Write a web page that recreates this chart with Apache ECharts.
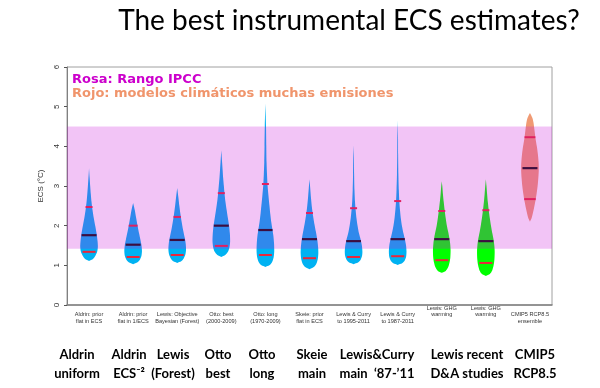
<!DOCTYPE html>
<html><head><meta charset="utf-8">
<script src="https://cdn.jsdelivr.net/npm/echarts@6/dist/echarts.min.js"></script>
<style>html,body{margin:0;padding:0;background:#fff}#c{width:600px;height:388px}</style>
</head><body><div id="c"></div>
<script>
// ---- data ----
const categories = ['Aldrin: prior\nflat in ECS','Aldrin: prior\nflat in 1/ECS','Lewis: Objective\nBayesian (Forest)','Otto: best\n(2000-2009)','Otto: long\n(1970-2009)','Skeie: prior\nflat in ECS','Lewis & Curry\nto 1995-2011','Lewis & Curry\nto 1987-2011','Lewis: GHG\nwarming\n\u00a0\n\u00a0','Lewis: GHG\nwarming\n\u00a0\n\u00a0','CMIP5 RCP8.5\nensemble'];
const groups = ['obs','obs','obs','obs','obs','obs','obs','obs','ghg','ghg','cmip'];
const medians = [1.76,1.52,1.64,2.00,1.89,1.66,1.61,1.66,1.66,1.61,3.45];
const lower5 = [1.34,1.21,1.26,1.49,1.26,1.18,1.21,1.23,1.13,1.06,2.67];
const upper95 = [2.47,2.00,2.22,2.82,3.05,2.32,2.44,2.62,2.37,2.39,4.23];
// density profiles: [ECS, relative density]
const profiles = [
 [[1.11,0],[1.16,0.45],[1.24,0.72],[1.34,0.92],[1.46,1],[1.6,0.97],[1.8,0.86],[2.0,0.7],[2.2,0.53],[2.4,0.39],[2.6,0.28],[2.8,0.2],[3.0,0.13],[3.2,0.07],[3.45,0]],
 [[1.03,0],[1.08,0.5],[1.15,0.78],[1.25,0.95],[1.36,1],[1.5,0.95],[1.65,0.82],[1.8,0.68],[2.0,0.5],[2.2,0.34],[2.4,0.18],[2.57,0]],
 [[1.06,0],[1.1,0.45],[1.18,0.75],[1.28,0.93],[1.4,1],[1.55,0.96],[1.7,0.85],[1.9,0.66],[2.1,0.5],[2.3,0.36],[2.5,0.24],[2.7,0.14],[2.95,0]],
 [[1.21,0],[1.26,0.45],[1.34,0.75],[1.45,0.92],[1.6,1],[1.8,0.97],[2.0,0.88],[2.2,0.74],[2.4,0.6],[2.6,0.47],[2.8,0.37],[3.0,0.29],[3.2,0.21],[3.4,0.15],[3.6,0.09],[3.9,0]],
 [[0.96,0],[1.0,0.45],[1.08,0.75],[1.2,0.93],[1.35,1],[1.55,0.98],[1.75,0.9],[1.9,0.8],[2.1,0.66],[2.3,0.55],[2.5,0.46],[2.75,0.35],[3.0,0.25],[3.3,0.18],[3.6,0.13],[4.0,0.1],[4.5,0.07],[5.08,0]],
 [[0.9,0],[0.95,0.45],[1.03,0.75],[1.15,0.93],[1.3,1],[1.45,0.98],[1.65,0.88],[1.85,0.72],[2.05,0.55],[2.25,0.4],[2.45,0.28],[2.7,0.17],[2.95,0.08],[3.17,0]],
 [[1.03,0],[1.07,0.5],[1.14,0.8],[1.24,0.96],[1.35,1],[1.5,0.94],[1.65,0.8],[1.8,0.62],[2.0,0.45],[2.2,0.32],[2.4,0.23],[2.6,0.16],[2.9,0.1],[3.3,0.06],[3.7,0.04],[4.03,0]],
 [[1.01,0],[1.05,0.5],[1.12,0.8],[1.22,0.96],[1.35,1],[1.5,0.95],[1.65,0.82],[1.8,0.66],[2.0,0.48],[2.2,0.35],[2.4,0.26],[2.6,0.19],[2.9,0.13],[3.3,0.08],[3.8,0.05],[4.2,0.04],[4.66,0]],
 [[0.81,0],[0.86,0.45],[0.95,0.72],[1.07,0.88],[1.2,0.97],[1.38,1],[1.55,0.95],[1.7,0.85],[1.85,0.72],[2.0,0.58],[2.2,0.44],[2.4,0.32],[2.6,0.22],[2.8,0.13],[3.0,0.06],[3.12,0]],
 [[0.73,0],[0.78,0.45],[0.87,0.72],[1.0,0.88],[1.15,0.97],[1.35,1],[1.5,0.96],[1.65,0.87],[1.8,0.74],[2.0,0.58],[2.2,0.44],[2.4,0.32],[2.6,0.22],[2.8,0.14],[3.0,0.07],[3.17,0]],
 [[2.1,0],[2.2,0.2],[2.4,0.42],[2.6,0.6],[2.8,0.75],[3.0,0.87],[3.2,0.95],[3.4,1],[3.6,0.98],[3.8,0.9],[4.0,0.78],[4.2,0.63],[4.4,0.52],[4.6,0.4],[4.72,0.27],[4.84,0]]
];
const ipccRange = [1.42, 4.5];
const yTicks = [0, 1, 2, 3, 4, 5, 6];
const title = 'The best instrumental ECS estimates?';
const noteIPCC = 'Rosa: Rango IPCC';
const noteModels = 'Rojo: modelos climáticos muchas emisiones';
const groupLabels = ['Aldrin\nuniform','Aldrin\nECS\u207B\u00B2','Lewis\n(Forest)','Otto\nbest','Otto\nlong','Skeie\nmain','Lewis&Curry\nmain  \u201887-\u201911','Lewis recent\nD&A studies','CMIP5\nRCP8.5'];

// ---- style / layout ----
const groupColor = {obs:'#00b2f2', ghg:'#00ff00', cmip:'#f09a74'};
const groupLabelX = [77,129,173,218,262,312,377,467,535];

const chart = echarts.init(document.getElementById('c'), null, {renderer:'canvas'});

function widthAt(prof, v){
  for (let k=0;k<prof.length-1;k++){
    const a=prof[k], b=prof[k+1];
    if (v>=a[0] && v<=b[0]) return a[1]+(b[1]-a[1])*(v-a[0])/(b[0]-a[0]);
  }
  return 0;
}

const violinData = categories.map((c,i)=>[i, medians[i], lower5[i], upper95[i]]);

const option = {
  animation:false,
  grid:{left:67,right:48,top:67,bottom:83,show:true,borderColor:'#a0a0a0',borderWidth:1},
  xAxis:{type:'category',data:categories,boundaryGap:true,
    axisLine:{show:true,lineStyle:{color:'#808080',width:1.5}},
    axisTick:{show:false},splitLine:{show:false},
    axisLabel:{interval:0,fontSize:5.6,lineHeight:6.4,color:'#333',fontFamily:'Liberation Sans',margin:13,verticalAlign:'middle'}},
  yAxis:{type:'value',min:0,max:6,interval:1,
    name:'ECS (°C)',nameLocation:'middle',nameGap:19,nameRotate:90,
    nameTextStyle:{fontSize:8,color:'#333',fontFamily:'Liberation Sans'},
    axisLine:{show:true,lineStyle:{color:'#808080',width:1}},
    axisTick:{show:true,length:3,lineStyle:{color:'#555'}},
    splitLine:{show:false},
    axisLabel:{rotate:90,fontSize:8,color:'#333',margin:6,fontFamily:'Liberation Sans',
      formatter:v=>yTicks.includes(v)?String(v):''}},
  graphic:[
    {type:'text',x:349,y:21,style:{text:title,font:'28px Lato',fill:'#000',textAlign:'center',textVerticalAlign:'middle'}},
    {type:'text',x:72,y:80,style:{text:noteIPCC,font:'bold 13px "DejaVu Sans"',fill:'#cc00cc',textVerticalAlign:'middle'}},
    {type:'text',x:72,y:94,style:{text:noteModels,font:'bold 13px "DejaVu Sans"',fill:'#f0956c',textVerticalAlign:'middle'}}
  ].concat(groupLabels.map((t,k)=>({type:'text',x:groupLabelX[k],y:345,style:{text:t,font:'bold 13px Lato',fill:'#000',textAlign:'center',textVerticalAlign:'top',lineHeight:19}}))),
  series:[
    {type:'custom',name:'violins',z:2,data:violinData,encode:{x:0,y:[1,2,3]},
      renderItem:function(params,api){
        const i = params.dataIndex;
        const cx = api.coord([i,0])[0];
        const band = api.size([1,0])[0];
        const sc = band*0.2;
        const prof = profiles[i];
        const right=[], left=[];
        prof.forEach(p=>{const y=api.coord([i,p[0]])[1]; right.push([cx+p[1]*sc,y]); left.push([cx-p[1]*sc,y]);});
        const pts = right.concat(left.reverse());
        const col = groupColor[groups[i]];
        const seg = (v,color,minL,maxL,w)=>{
          const y = api.coord([i,v])[1];
          let L = Math.max(minL, Math.min(maxL, widthAt(prof,v)*sc*2));
          return {type:'line',shape:{x1:cx-L/2,y1:y,x2:cx+L/2,y2:y},style:{stroke:color,lineWidth:w}};
        };
        return {type:'group',children:[
          {type:'polygon',shape:{points:pts,smooth:0.25},style:{fill:col}},
          seg(api.value(2),'#e8283c',7,13,2),
          seg(api.value(3),'#e8283c',7,13,2),
          seg(api.value(1),'#111111',12,15,2.2)
        ]};
      }},
    {type:'custom',name:'IPCC',z:5,silent:true,data:[[0,ipccRange[0],ipccRange[1]]],encode:{x:0,y:[1,2]},
      renderItem:function(params,api){
        const cs = params.coordSys;
        const y1 = api.coord([0,api.value(2)])[1];
        const y0 = api.coord([0,api.value(1)])[1];
        return {type:'rect',shape:{x:cs.x,y:y1,width:cs.width,height:y0-y1},style:{fill:'rgba(200,8,217,0.24)'}};
      }}
  ]
};
chart.setOption(option);
</script></body></html>
